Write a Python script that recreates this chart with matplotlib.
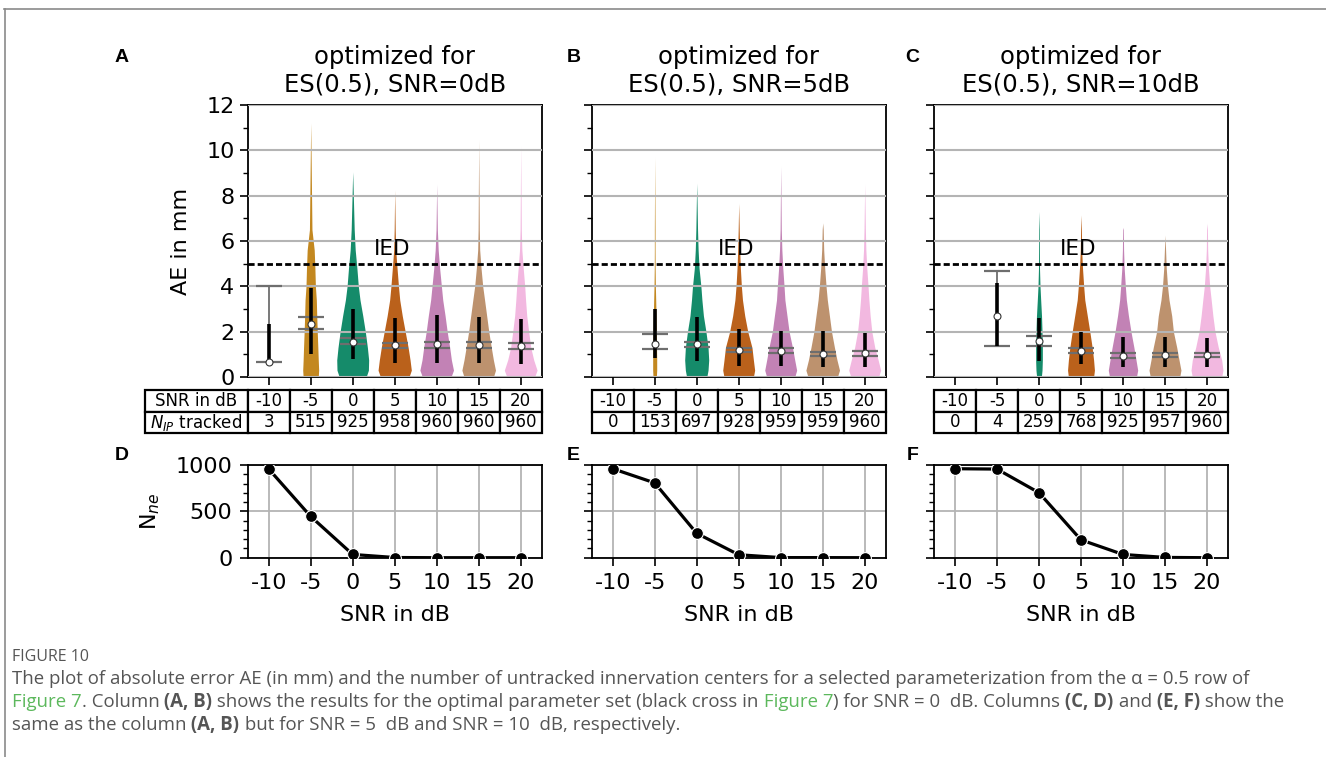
import colorsys
import numpy as np
import matplotlib
matplotlib.use("Agg")
import matplotlib.pyplot as plt
from matplotlib.colors import to_rgb
from matplotlib.lines import Line2D
from matplotlib.ticker import MultipleLocator

plt.rcParams['axes.unicode_minus'] = False

# ---- data ----
snr = [-10, -5, 0, 5, 10, 15, 20]
snr_labels = ['-10', '-5', '0', '5', '10', '15', '20']
titles = ['optimized for\nES(0.5), SNR=0dB',
          'optimized for\nES(0.5), SNR=5dB',
          'optimized for\nES(0.5), SNR=10dB']

tracked_a = [3, 515, 925, 958, 960, 960, 960]
tracked_b = [0, 153, 697, 928, 959, 959, 960]
tracked_c = [0, 4, 259, 768, 925, 957, 960]

n_ne_d = [957, 445, 35, 2, 0, 0, 0]
n_ne_e = [960, 807, 263, 32, 1, 1, 0]
n_ne_f = [960, 956, 701, 192, 35, 3, 0]

# violin outline: half-width (in dB units) at these AE levels, then a thin tail up to "top"
profile_y = [0, 0.3, 0.75, 1.3, 2.0, 2.7, 3.4, 4.0, 4.8, 5.6, 6.5]
widths_a = [None,
            [0.90, 0.95, 0.90, 0.85, 0.78, 0.72, 0.67, 0.56, 0.50, 0.42, 0.15],
            [1.60, 1.87, 1.90, 1.75, 1.50, 1.20, 0.87, 0.67, 0.50, 0.30, 0.18],
            [1.70, 1.98, 1.83, 1.60, 1.25, 0.90, 0.60, 0.45, 0.28, 0.12, 0.06],
            [1.70, 2.00, 1.75, 1.55, 1.25, 1.00, 0.72, 0.56, 0.35, 0.18, 0.08],
            [1.75, 2.00, 1.75, 1.50, 1.20, 0.95, 0.70, 0.48, 0.28, 0.12, 0.07],
            [1.65, 1.95, 1.55, 1.20, 0.95, 0.72, 0.58, 0.48, 0.30, 0.14, 0.07]]
widths_b = [None,
            [0.20, 0.24, 0.24, 0.22, 0.20, 0.16, 0.12, 0.08, 0.05, 0.04, 0.04],
            [1.20, 1.35, 1.43, 1.35, 1.10, 0.80, 0.62, 0.50, 0.28, 0.17, 0.10],
            [1.75, 1.90, 1.75, 1.58, 1.08, 0.72, 0.45, 0.32, 0.20, 0.12, 0.06],
            [1.67, 1.90, 1.67, 1.40, 1.00, 0.75, 0.50, 0.40, 0.25, 0.14, 0.07],
            [1.75, 2.00, 1.70, 1.40, 1.05, 0.80, 0.55, 0.40, 0.24, 0.12, 0.06],
            [1.65, 1.90, 1.60, 1.20, 0.85, 0.65, 0.50, 0.40, 0.25, 0.14, 0.08]]
widths_c = [None,
            None,
            [0.28, 0.36, 0.40, 0.40, 0.36, 0.30, 0.20, 0.12, 0.06, 0.05, 0.04],
            [1.50, 1.60, 1.50, 1.33, 1.05, 0.75, 0.45, 0.32, 0.18, 0.08, 0.05],
            [1.60, 1.75, 1.55, 1.30, 0.95, 0.65, 0.40, 0.28, 0.14, 0.07, 0.04],
            [1.75, 1.90, 1.67, 1.40, 1.00, 0.80, 0.48, 0.30, 0.15, 0.07, 0.04],
            [1.75, 1.90, 1.75, 1.35, 0.95, 0.70, 0.50, 0.32, 0.17, 0.08, 0.05]]
tops_a = [None, 11.2, 9.05, 8.25, 8.5, 10.45, 10.2]
tops_b = [None, 9.7, 8.55, 7.66, 9.3, 6.8, 8.5]
tops_c = [None, None, 7.3, 7.15, 6.6, 6.26, 6.78]

# median, CI low, CI high, bar low, bar high
stats_a = [[0.68, 0.68, 4.00, 0.68, 2.34],
           [2.34, 2.10, 2.66, 1.01, 3.91],
           [1.53, 1.44, 1.71, 0.78, 2.99],
           [1.40, 1.26, 1.51, 0.63, 2.59],
           [1.44, 1.29, 1.56, 0.63, 2.74],
           [1.40, 1.26, 1.53, 0.60, 2.66],
           [1.38, 1.25, 1.51, 0.56, 2.54]]
stats_b = [None,
           [1.47, 1.22, 1.88, 0.82, 3.00],
           [1.44, 1.31, 1.54, 0.72, 2.63],
           [1.19, 1.09, 1.28, 0.50, 2.10],
           [1.15, 1.04, 1.26, 0.50, 2.04],
           [1.01, 0.93, 1.12, 0.46, 2.04],
           [1.04, 0.94, 1.16, 0.46, 1.96]]
stats_c = [None,
           [2.71, 1.38, 4.66, 1.38, 4.16],
           [1.60, 1.38, 1.81, 0.72, 2.59],
           [1.15, 1.04, 1.26, 0.56, 2.00],
           [0.93, 0.85, 1.04, 0.43, 1.75],
           [0.97, 0.90, 1.07, 0.46, 1.75],
           [0.97, 0.90, 1.07, 0.43, 1.73]]

palette = ['#0173b2', '#de8f05', '#029e73', '#d55e00', '#cc78bc', '#ca9161', '#fbafe4']


def desat(c, p=0.75):
    h, l, s = colorsys.rgb_to_hls(*to_rgb(c))
    return colorsys.hls_to_rgb(h, l, s * p)


W, H = 1326, 757
fig = plt.figure(figsize=(W / 100, H / 100), dpi=100)


def fx(px):
    return px / W


def fy(py):
    return 1 - py / H


lefts = [247.7, 591.7, 934.0]
top_axes = [fig.add_axes([fx(l), fy(377), 294 / W, 272 / H]) for l in lefts]
bot_axes = [fig.add_axes([fx(l), fy(557.7), 294 / W, 92.7 / H]) for l in lefts]

panels = [(widths_a, tops_a, stats_a, tracked_a, n_ne_d),
          (widths_b, tops_b, stats_b, tracked_b, n_ne_e),
          (widths_c, tops_c, stats_c, tracked_c, n_ne_f)]

for i, (ax, bx, (widths, tops, stats, tracked, n_ne)) in enumerate(zip(top_axes, bot_axes, panels)):
    # violins
    for j, x in enumerate(snr):
        if widths[j] is not None:
            ys = [v for v in profile_y if v < tops[j]] + [tops[j]]
            ws = widths[j][:len(ys) - 1] + [0.0]
            ys, ws = np.array(ys), np.array(ws)
            ax.fill_betweenx(ys, x - ws, x + ws, color=desat(palette[j]), lw=0, zorder=1)
        if stats[j] is not None:
            med, ci_lo, ci_hi, b_lo, b_hi = stats[j]
            ax.vlines(x, ci_lo, ci_hi, color='#6e6e6e', lw=1.3, zorder=4)
            ax.hlines([ci_lo, ci_hi], x - 1.55, x + 1.55, color='#6e6e6e', lw=1.6, zorder=4)
            ax.vlines(x, b_lo, b_hi, color='black', lw=2.6, zorder=5)
            ax.plot(x, med, 'o', mfc='white', mec='#333333', mew=0.8, ms=5, zorder=6)

    ax.axhline(5, color='black', ls='--', lw=2, dashes=(2.2, 1.1), zorder=3)
    ax.text(4.64, 5.63, 'IED', ha='center', va='center', fontsize=15.5)
    ax.set_xlim(-12.5, 22.5)
    ax.set_ylim(0, 12)
    ax.set_yticks(range(0, 13, 2))
    ax.yaxis.set_minor_locator(MultipleLocator(1))
    ax.set_xticks(snr)
    ax.set_xticklabels([])
    ax.grid(axis='y', color='#b4b4b4', lw=1.5)
    ax.set_axisbelow(False)
    ax.tick_params(which='major', length=6, width=1.2, labelsize=16)
    ax.tick_params(which='minor', length=3.5, width=1.0)
    for s in ax.spines.values():
        s.set_linewidth(1.3)
    ax.set_title(titles[i], fontsize=17.5, pad=10, linespacing=1.15)

    # table under the violins
    cells = [snr_labels, [str(v) for v in tracked]]
    if i == 0:
        cells = [['SNR in dB'] + cells[0], ['$N_{IP}$ tracked'] + cells[1]]
        tab = ax.table(cellText=cells, cellLoc='center', colWidths=[0.349] + [1 / 7] * 7,
                       bbox=[-0.349, -0.206, 1.349, 0.158])
    else:
        tab = ax.table(cellText=cells, cellLoc='center', colWidths=[1 / 7] * 7,
                       bbox=[0, -0.206, 1, 0.158])
    tab.auto_set_font_size(False)
    tab.set_fontsize(12)
    for cell in tab.get_celld().values():
        cell.set_linewidth(1.6)
        cell.set_edgecolor('black')
        cell.PAD = 0.02

    # untracked counts
    bx.plot(snr, n_ne, '-o', color='black', lw=2.3, ms=8.5, mec='white', mew=0.8, zorder=3)
    bx.set_xlim(-12.5, 22.5)
    bx.set_ylim(0, 1000)
    bx.set_xticks(snr)
    bx.set_xticklabels(snr_labels)
    bx.set_yticks([0, 500, 1000])
    bx.yaxis.set_minor_locator(MultipleLocator(100))
    bx.grid(which='major', color='#b4b4b4', lw=1.3)
    bx.set_axisbelow(True)
    bx.tick_params(which='major', length=6, width=1.2, labelsize=16, pad=5)
    bx.tick_params(which='minor', length=3.5, width=1.0)
    for s in bx.spines.values():
        s.set_linewidth(1.3)
    bx.set_xlabel('SNR in dB', fontsize=16, labelpad=9)
    if i > 0:
        ax.tick_params(labelleft=False)
        bx.tick_params(labelleft=False)

top_axes[0].set_ylabel('AE in mm', fontsize=16, labelpad=11)
bot_axes[0].set_ylabel('N$_{ne}$', fontsize=16, labelpad=10)

for letter, (px, py) in zip('ABCDEF', [(122, 58), (574, 58), (912, 58),
                                        (122, 455), (573, 455), (913, 455)]):
    fig.text(fx(px), fy(py), letter, ha='center', va='center', fontsize=14,
             fontweight='bold', family='Liberation Sans')

# frame lines of the page
fig.add_artist(Line2D([fx(4), 1], [fy(9), fy(9)], color='#8a8a8a', lw=1.2))
fig.add_artist(Line2D([fx(5), fx(5)], [fy(9), 0], color='#8a8a8a', lw=1.2))

# caption
cap_font = 'Open Sans'
cap_size = 13.4
grey = '#555555'
green = '#5cb85c'
fig.text(fx(12), fy(661), 'FIGURE 10', fontsize=11.5, color='#555555', family=cap_font)
renderer = fig.canvas.get_renderer()


def caption_line(py, pieces):
    x = fx(12)
    for txt, col, weight in pieces:
        t = fig.text(x, fy(py), txt, fontsize=cap_size, color=col, fontweight=weight,
                     family=cap_font, va='baseline')
        x = t.get_window_extent(renderer).x1 / W


caption_line(684, [('The plot of absolute error AE (in mm) and the number of untracked innervation '
                    'centers for a selected parameterization from the \u03b1 = 0.5 row of', grey, 'normal')])
caption_line(707, [('Figure 7', green, 'normal'), ('. Column', grey, 'normal'), (' (A, B)', grey, 'bold'),
                   (' shows the results for the optimal parameter set (black cross in', grey, 'normal'),
                   (' Figure 7', green, 'normal'), (') for SNR = 0  dB. Columns', grey, 'normal'),
                   (' (C, D)', grey, 'bold'), (' and', grey, 'normal'), (' (E, F)', grey, 'bold'),
                   (' show the', grey, 'normal')])
caption_line(730, [('same as the column', grey, 'normal'), (' (A, B)', grey, 'bold'),
                   (' but for SNR = 5  dB and SNR = 10  dB, respectively.', grey, 'normal')])

fig.savefig('out.png', dpi=100)
